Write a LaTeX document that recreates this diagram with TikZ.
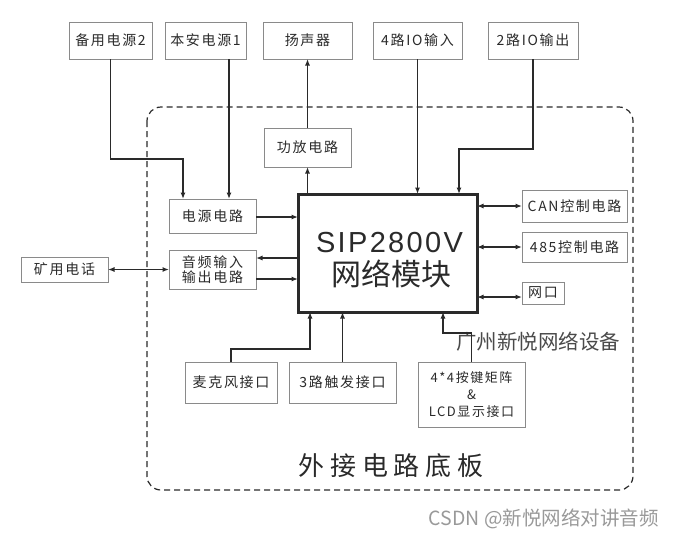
\documentclass[tikz,border=0pt]{standalone}
\usepackage{fontspec}
\setmainfont{Noto Sans CJK SC}
\newfontfamily\cjk[LetterSpace=12]{Noto Sans CJK SC}
\newfontfamily\cjkw[LetterSpace=22]{Noto Sans CJK SC}
\newfontfamily\cjkn{Noto Sans CJK SC}
\newfontfamily\sipfont[LetterSpace=8]{Liberation Sans}
\usetikzlibrary{arrows.meta}
\definecolor{ink}{HTML}{2A2A2A}
\definecolor{boxline}{HTML}{8A8A8A}
\tikzset{
  blk/.style={draw=boxline, line width=0.9pt, inner sep=0pt, outer sep=0pt, text=ink,
    font=\cjk\fontsize{14}{17}\selectfont, align=center},
  arr/.style={draw=ink, line width=1.2pt, -{Latex[length=6.5pt,width=5pt]}},
  darr/.style={draw=ink, line width=1.2pt, {Latex[length=6.5pt,width=5pt]}-{Latex[length=6.5pt,width=5pt]}},
}
\begin{document}
\begin{tikzpicture}[x=1pt,y=-1pt]
\useasboundingbox (0,0) rectangle (675,539);
% outer dashed board
\draw[ink, line width=1.2pt, dash pattern=on 6pt off 4pt, rounded corners=14pt] (147,107) rectangle (633,490);
% top row
\node[blk, minimum width=83pt, minimum height=37pt] (b2) at (110.5,40.5) {备用电源2};
\node[blk, minimum width=81pt, minimum height=37pt] (b1) at (205.5,40.5) {本安电源1};
\node[blk, minimum width=89pt, minimum height=37pt] (spk) at (307.5,40.5) {扬声器};
\node[blk, minimum width=89pt, minimum height=37pt] (in4) at (417.5,40.5) {4路IO输入};
\node[blk, minimum width=90pt, minimum height=37pt] (out2) at (533,40.5) {2路IO输出};
% inner blocks
\node[blk, minimum width=87pt, minimum height=39pt] (amp) at (307.5,147.5) {功放电路};
\node[blk, minimum width=87pt, minimum height=34pt] (pwr) at (212.5,216) {电源电路};
\node[blk, minimum width=87pt, minimum height=39pt, font=\cjk\fontsize{14}{15.5}\selectfont] (aud) at (212.5,269.5) {音频输入\\输出电路};
\node[draw=ink, line width=3pt, inner sep=0pt, outer sep=0pt, minimum width=179pt, minimum height=118pt] (main) at (387.5,253) {};
\node[text=ink, font=\sipfont\fontsize{29}{31}\selectfont, inner sep=0pt] (sip) at (389.5,242.5) {SIP2800V};
\node[text=ink, font=\cjkn\fontsize{30}{32}\selectfont, inner sep=0pt] (mk) at (391,274) {网络模块};
\node[blk, minimum width=105pt, minimum height=32pt] (can) at (574.5,206) {CAN控制电路};
\node[blk, minimum width=105pt, minimum height=30pt] (r485) at (574.5,247) {485控制电路};
\node[blk, minimum width=42pt, minimum height=22pt] (net) at (543,293) {网口};
\node[blk, minimum width=87pt, minimum height=25pt] (phone) at (64.5,269.5) {矿用电话};
\node[blk, minimum width=92pt, minimum height=41pt] (mic) at (231,382.5) {麦克风接口};
\node[blk, minimum width=107pt, minimum height=41pt] (trig) at (342.5,382.5) {3路触发接口};
\node[blk, minimum width=107pt, minimum height=65pt, font=\cjk\fontsize{13}{17}\selectfont] (key) at (471.5,394.5) {4*4按键矩阵\\\&\\LCD显示接口};
% texts
\node[text=ink, font=\cjkw\fontsize{26}{28}\selectfont, inner sep=0pt] (board) at (391,466) {外接电路底板};
\node[text=ink!85, font=\cjkn\fontsize{20.5}{22}\selectfont, inner sep=0pt] (brand) at (538,342) {广州新悦网络设备};
\node[text=black!40, font=\cjkn\fontsize{19.5}{22}\selectfont, inner sep=0pt, anchor=east] (wm) at (659,519) {CSDN @新悦网络对讲音频};
% helper coordinates
\coordinate (k1) at (183,159);
\coordinate (k2) at (459,149);
\coordinate (k3) at (310,349);
\coordinate (k4) at (443,333);
% connectors
\draw[arr] (b2.south) |- (k1) -- (k1 |- pwr.north);
\draw[arr] ([xshift=23.5pt]b1.south) -- ([xshift=16.5pt]pwr.north);
\draw[arr] (amp.north) -- (spk.south);
\draw[arr] (main.north -| amp.south) -- (amp.south);
\draw[arr] (in4.south) -- (in4.south |- main.north);
\draw[arr] (out2.south) |- (k2) -- (k2 |- main.north);
\draw[arr] ([yshift=-1pt]pwr.east) -- ([yshift=-1pt]pwr.east -| main.west);
\path ([yshift=11.5pt]aud.east) coordinate (a1) ([yshift=-9.5pt]aud.east) coordinate (a2);
\draw[arr] (a1 -| main.west) -- (a1);
\draw[arr] (a2) -- (a2 -| main.west);
\draw[darr] (phone.east) -- (aud.west);
\draw[darr] (can.west -| main.east) -- (can.west);
\draw[darr] (r485.west -| main.east) -- (r485.west);
\path ([yshift=-4pt]net.west) coordinate (n1);
\draw[darr] (n1 -| main.east) -- (n1);
\draw[arr] (mic.north) |- (k3) -- (k3 |- main.south);
\draw[arr] (trig.north) -- (trig.north |- main.south);
\draw[arr] (key.north) |- (k4) -- (k4 |- main.south);
\end{tikzpicture}
\end{document}
